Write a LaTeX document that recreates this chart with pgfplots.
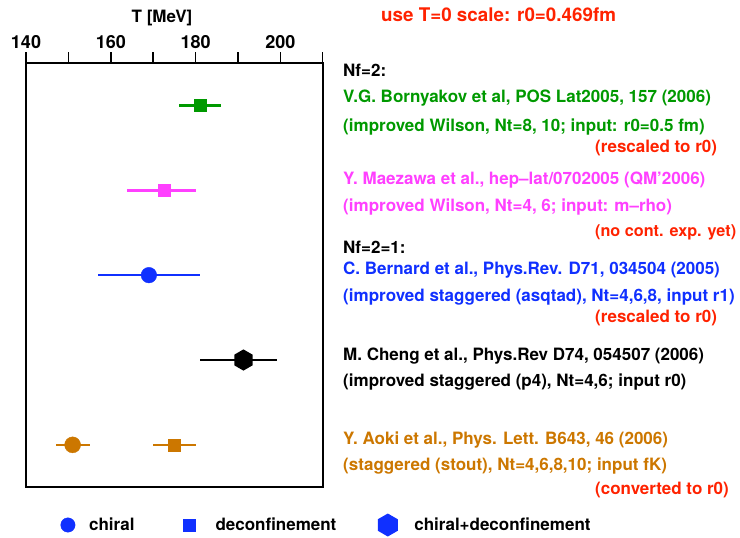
\documentclass[border=0pt]{standalone}
\usepackage{pgfplots}
\pgfplotsset{compat=1.18}
\usepackage{fontspec}
\setmainfont{TeX Gyre Heros}

\definecolor{cgreen}{RGB}{0,153,0}
\definecolor{cmag}{RGB}{255,64,255}
\definecolor{cblue}{RGB}{16,48,255}
\definecolor{corange}{RGB}{204,119,0}
\definecolor{cred}{RGB}{255,34,0}

% filled hexagon standing on a vertex
\pgfdeclareplotmark{hexagon*}{%
  \pgfpathmoveto{\pgfpointpolar{90}{\pgfplotmarksize}}%
  \pgfpathlineto{\pgfpointpolar{150}{\pgfplotmarksize}}%
  \pgfpathlineto{\pgfpointpolar{210}{\pgfplotmarksize}}%
  \pgfpathlineto{\pgfpointpolar{270}{\pgfplotmarksize}}%
  \pgfpathlineto{\pgfpointpolar{330}{\pgfplotmarksize}}%
  \pgfpathlineto{\pgfpointpolar{30}{\pgfplotmarksize}}%
  \pgfpathclose
  \pgfusepathqfill}

\newcommand{\txt}{\fontsize{17}{20}\selectfont\bfseries}

\pgfplotsset{
  markimg/.style={legend image code/.code={%
      \path[draw=none, fill=none] (-#1,-#1) rectangle (#1,#1);
      \draw[##1] plot coordinates {(0pt,0pt)};}},
  tc/.style={only marks, forget plot, color=#1, mark options={fill=#1, draw=#1},
    error bars/x dir=both, error bars/x explicit, error bars/error mark=none,
    error bars/error bar style={line width=2.6pt, color=#1}},
}

\begin{document}
\begin{tikzpicture}[x=1pt,y=1pt]
\path[use as bounding box] (0,0) rectangle (740,538);
\begin{axis}[
  at={(26pt,50.7pt)}, anchor=south west,
  scale only axis, width=296.7pt, height=424.3pt,
  xmin=140, xmax=210, ymin=0.5, ymax=5.5,
  axis line style={line width=2pt},
  xtick={140,150,...,210}, xticklabels={140,,160,,180,,200,},
  ytick=\empty,
  xtick pos=upper, xticklabel pos=upper,
  tick align=outside, major tick length=11pt,
  every tick/.style={black, line width=1.5pt},
  /pgf/number format/assume math mode=true,
  xticklabel style={font=\fontsize{18}{20}\selectfont\bfseries},
  clip=false,
  legend columns=3,
  legend style={draw=none, fill=none, inner sep=0pt, column sep=0pt,
    nodes={inner sep=0pt, font=\txt},
    at={(rel axis cs:0.1163,-0.0889)}, anchor=west},
]
% Nf=2, Bornyakov et al. (deconfinement)
\addplot[tc=cgreen, mark=square*, mark size=6pt]
  coordinates {(181,5) +- (5,0)};
% Nf=2, Maezawa et al. (deconfinement)
\addplot[tc=cmag, mark=square*, mark size=6pt]
  coordinates {(172.5,4) += (7.5,0) -= (8.6,0)};
% Nf=2+1, Bernard et al. (chiral)
\addplot[tc=cblue, mark=*, mark size=7.8pt]
  coordinates {(169,3) +- (12,0)};
% Nf=2+1, Cheng et al. (chiral + deconfinement)
\addplot[tc=black, mark=hexagon*, mark size=10.6pt]
  coordinates {(191.3,2) += (7.9,0) -= (10.2,0)};
% Nf=2+1, Aoki et al. (chiral and deconfinement)
\addplot[tc=corange, mark=*, mark size=8pt]
  coordinates {(151,1) +- (4,0)};
\addplot[tc=corange, mark=square*, mark size=6pt]
  coordinates {(175,1) +- (5,0)};

\addlegendimage{only marks, mark=*, mark size=7.2pt, cblue, markimg=7.2pt}
\addlegendentry{\makebox[108.2pt][l]{\hspace{14pt}chiral}}
\addlegendimage{only marks, mark=square*, mark size=6.1pt, cblue, markimg=6.1pt}
\addlegendentry{\makebox[180.8pt][l]{\hspace{20pt}deconfinement}}
\addlegendimage{only marks, mark=hexagon*, mark size=11.5pt, cblue, markimg=11.5pt}
\addlegendentry{\hspace{15pt}chiral+deconfinement}
\end{axis}

\node[anchor=base, inner sep=0pt, font=\txt] at (162,515.3) {T [MeV]};
\node[anchor=base west, inner sep=0pt, font=\fontsize{18.8}{21}\selectfont\bfseries, text=cred]
  at (381,516.3) {use T=0 scale: r0=0.469fm};

\begin{scope}[every node/.style={anchor=base west, inner sep=0pt, font=\txt}]
\node at (343,461.3) {Nf=2:};
\node[text=cgreen] at (343,435.3) {V.G. Bornyakov et al, POS Lat2005, 157 (2006)};
\node[text=cgreen] at (343,406.3) {(improved Wilson, Nt=8, 10; input: r0=0.5 fm)};
\node[text=cred] at (595,385.3) {(rescaled to r0)};
\node[text=cmag] at (343,353) {Y. Maezawa et al., hep--lat/0702005 (QM'2006)};
\node[text=cmag] at (343,326.3) {(improved Wilson, Nt=4, 6; input: m--rho)};
\node[text=cred, font=\fontsize{16.2}{19}\selectfont\bfseries] at (595,301.3) {(no cont. exp. yet)};
\node at (343,284) {Nf=2=1:};
\node[text=cblue] at (343,263) {C. Bernard et al., Phys.Rev. D71, 034504 (2005)};
\node[text=cblue] at (343,236.5) {(improved staggered (asqtad), Nt=4,6,8, input r1)};
\node[text=cred] at (595,215.3) {(rescaled to r0)};
\node at (343,177.5) {M. Cheng et al., Phys.Rev D74, 054507 (2006)};
\node at (343,151.3) {(improved staggered (p4), Nt=4,6; input r0)};
\node[text=corange] at (343,93.5) {Y. Aoki et al., Phys. Lett. B643, 46 (2006)};
\node[text=corange] at (343,67) {(staggered (stout), Nt=4,6,8,10; input fK)};
\node[text=cred] at (595,43) {(converted to r0)};
\end{scope}
\end{tikzpicture}
\end{document}
